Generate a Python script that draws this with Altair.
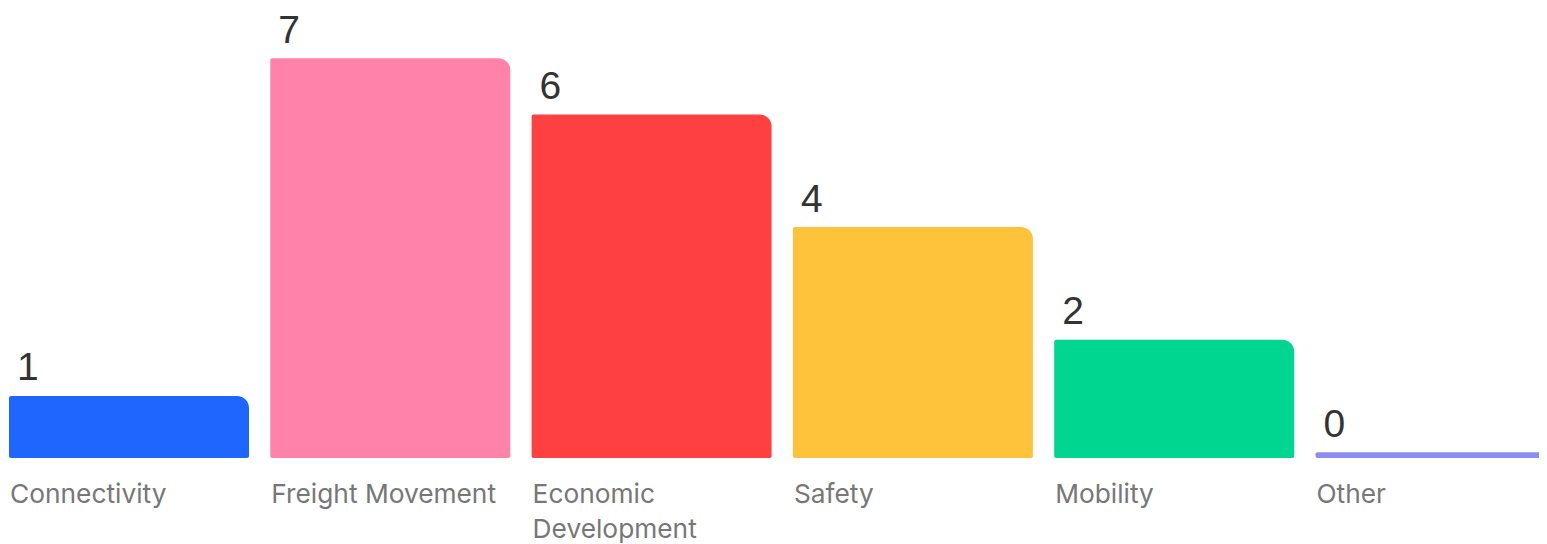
import altair as alt
import pandas as pd

categories = ["Connectivity", "Freight Movement", "Economic Development", "Safety", "Mobility", "Other"]
axis_labels = ["Connectivity", "Freight Movement", "Economic\nDevelopment", "Safety", "Mobility", "Other"]
values = [1, 7, 6, 4, 2, 0]
colors = ["#1F66FF", "#FF82AB", "#FF4040", "#FFC23A", "#00D68F", "#8C8CF2"]

df = pd.DataFrame({
    "category": categories,
    "label": axis_labels,
    "value": values,
    "slot": list(range(len(categories))),
    "base": [0] * len(categories),
})

STEP = 261.3           # pixels per category slot
BAR_FRAC = 240 / STEP  # bar width as a fraction of the slot
VIEW_W = 1531
VIEW_H = 528
xscale = alt.Scale(domain=[-1 / STEP, (VIEW_W - 1) / STEP], nice=False, zero=False)
yscale = alt.Scale(domain=[-1.487, 7.891], zero=False, nice=False)

base = alt.Chart(df).transform_calculate(slot_end=f"datum.slot + {BAR_FRAC}")

bars = base.mark_bar(
    clip=True, y2Offset=5.7,
    cornerRadiusTopRight=12, cornerRadiusTopLeft=2,
    cornerRadiusBottomLeft=2, cornerRadiusBottomRight=2,
).encode(
    x=alt.X("slot:Q", scale=xscale, axis=None),
    x2="slot_end:Q",
    y=alt.Y("value:Q", scale=yscale, axis=None),
    y2="base:Q",
    color=alt.Color("category:N", scale=alt.Scale(domain=categories, range=colors), legend=None),
)

value_text = base.mark_text(
    align="left", baseline="alphabetic", dx=8, dy=-15.5,
    fontSize=39, font="Liberation Sans", color="#333333",
).encode(
    x=alt.X("slot:Q", scale=xscale, axis=None),
    y=alt.Y("value:Q", scale=yscale, axis=None),
    text=alt.Text("value:Q"),
)

cat_text = base.mark_text(
    align="left", baseline="alphabetic", dx=1, dy=50.5,
    fontSize=26.3, lineHeight=35, lineBreak="\n", font="Inter", color="#777777",
).encode(
    x=alt.X("slot:Q", scale=xscale, axis=None),
    y=alt.Y("base:Q", scale=yscale, axis=None),
    text="label:N",
)

chart = alt.layer(bars, value_text, cat_text).properties(
    width=VIEW_W, height=VIEW_H, padding=0, background="white",
).configure_view(stroke=None)

chart.save("out.html", embed_options={"renderer": "svg", "actions": False})
